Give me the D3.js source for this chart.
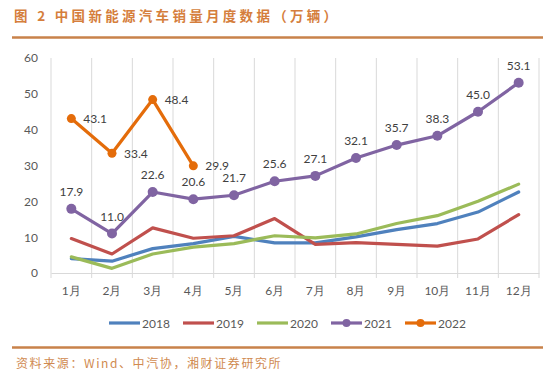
<!DOCTYPE html>
<html><head><meta charset="utf-8">
<script src="https://cdn.jsdelivr.net/npm/d3@7"></script>
<style>
html,body{margin:0;padding:0;background:#fff;}
svg{display:block;}
</style>
</head><body>
<svg id="c" width="554" height="378"></svg>
<script>
const months = ["1月","2月","3月","4月","5月","6月","7月","8月","9月","10月","11月","12月"];
const yTicks = [0,10,20,30,40,50,60];
const v2018 = [4.0,3.3,6.8,8.2,10.2,8.4,8.4,10.1,12.1,13.8,17.0,22.6];
const v2019 = [9.6,5.3,12.6,9.7,10.4,15.2,8.0,8.5,8.0,7.5,9.5,16.3];
const v2020 = [4.5,1.3,5.3,7.2,8.2,10.4,9.8,10.9,13.8,16.0,20.0,24.8];
const v2021 = [17.9,11.0,22.6,20.6,21.7,25.6,27.1,32.1,35.7,38.3,45.0,53.1];
const v2022 = [43.1,33.4,48.4,29.9];
const seriesNames = ["2018","2019","2020","2021","2022"];
const colors = ["#4F81BD","#C0504D","#9BBB59","#8064A2","#E46C0A"];
const markers = [false,false,false,true,true];
const titleText = "图 2  中国新能源汽车销量月度数据（万辆）";
const sourceText = "资料来源：Wind、中汽协，湘财证券研究所";

const allSeries = [v2018,v2019,v2020,v2021,v2022];
const svg = d3.select("#c");
const font = "Lato, 'Noto Sans', sans-serif";

// title + rules
svg.append("text").attr("x",14).attr("y",21).text(titleText)
  .attr("font-family","'Noto Sans CJK SC', sans-serif").attr("font-weight","bold")
  .attr("font-size",13.5).attr("letter-spacing",3.3).attr("fill","#D57E3C");
svg.append("line").attr("x1",12).attr("x2",543).attr("y1",37.5).attr("y2",37.5)
  .attr("stroke","#C8824A").attr("stroke-width",2.5);
svg.append("line").attr("x1",12).attr("x2",543).attr("y1",347.5).attr("y2",347.5)
  .attr("stroke","#C8824A").attr("stroke-width",2.5);
svg.append("text").attr("x",16).attr("y",368).text(sourceText)
  .attr("font-family","'Noto Sans CJK SC', sans-serif")
  .attr("font-size",12).attr("letter-spacing",1.6).attr("fill","#D08A50");

const x = d3.scaleBand().domain(months).range([51,539]).padding(0);
const y = d3.scaleLinear().domain([0,60]).range([273,58]);
const cx = m => x(m) + x.bandwidth()/2;

// vertical gridlines at category boundaries
const bounds = months.map(m => x(m)).concat([x.range()[1]]);
svg.append("g").selectAll("line").data(bounds).join("line")
  .attr("x1",d=>d).attr("x2",d=>d).attr("y1",y(60)).attr("y2",y(0)+5)
  .attr("stroke","#D9D9D9").attr("stroke-width",1);

// x axis
const xAxis = svg.append("g").attr("transform",`translate(0,${y(0)})`)
  .call(d3.axisBottom(x).tickSize(0).tickPadding(13));
xAxis.select(".domain").attr("stroke","#D9D9D9");
xAxis.selectAll("text").attr("font-family",font).attr("font-size",12).attr("fill","#595959");

// y axis
const yAxis = svg.append("g").attr("transform",`translate(51,0)`)
  .call(d3.axisLeft(y).tickValues(yTicks).tickSize(0).tickPadding(13));
yAxis.select(".domain").remove();
yAxis.selectAll("text").attr("font-family",font).attr("font-size",12).attr("fill","#595959");

// lines
const line = d3.line().x((d,i)=>cx(months[i])).y(d=>y(d));
allSeries.forEach((vals,k)=>{
  svg.append("path").datum(vals).attr("d",line).attr("fill","none")
    .attr("stroke",colors[k]).attr("stroke-width",3.2).attr("stroke-linejoin","round").attr("stroke-linecap","round");
  if(markers[k]){
    svg.append("g").selectAll("circle").data(vals).join("circle")
      .attr("cx",(d,i)=>cx(months[i])).attr("cy",d=>y(d)).attr("r",k===3?5:4.5)
      .attr("fill",colors[k]);
  }
});

// labels 2021 above
svg.append("g").selectAll("text").data(v2021).join("text")
  .attr("x",(d,i)=>cx(months[i])).attr("y",d=>y(d)-13).attr("text-anchor","middle")
  .text(d=>d.toFixed(1)).attr("font-family",font).attr("font-size",12).attr("fill","#404040");
// labels 2022 right
svg.append("g").selectAll("text").data(v2022).join("text")
  .attr("x",(d,i)=>cx(months[i])+12).attr("y",d=>y(d)+4.5).attr("text-anchor","start")
  .text(d=>d.toFixed(1)).attr("font-family",font).attr("font-size",12).attr("fill","#404040");

// legend
const legX = [109,183,257,331,405];
const lg = svg.append("g").selectAll("g").data(seriesNames).join("g")
  .attr("transform",(d,i)=>`translate(${legX[i]},323)`);
lg.append("line").attr("x1",0).attr("x2",31).attr("y1",0).attr("y2",0)
  .attr("stroke",(d,i)=>colors[i]).attr("stroke-width",3.2);
lg.filter((d,i)=>markers[i]).append("circle").attr("cx",15.5).attr("cy",0).attr("r",4)
  .attr("fill",(d,i)=>colors[i+3]);
lg.append("text").attr("x",33).attr("y",4.5).text(d=>d)
  .attr("font-family",font).attr("font-size",12).attr("fill","#595959");
</script>
</body></html>
